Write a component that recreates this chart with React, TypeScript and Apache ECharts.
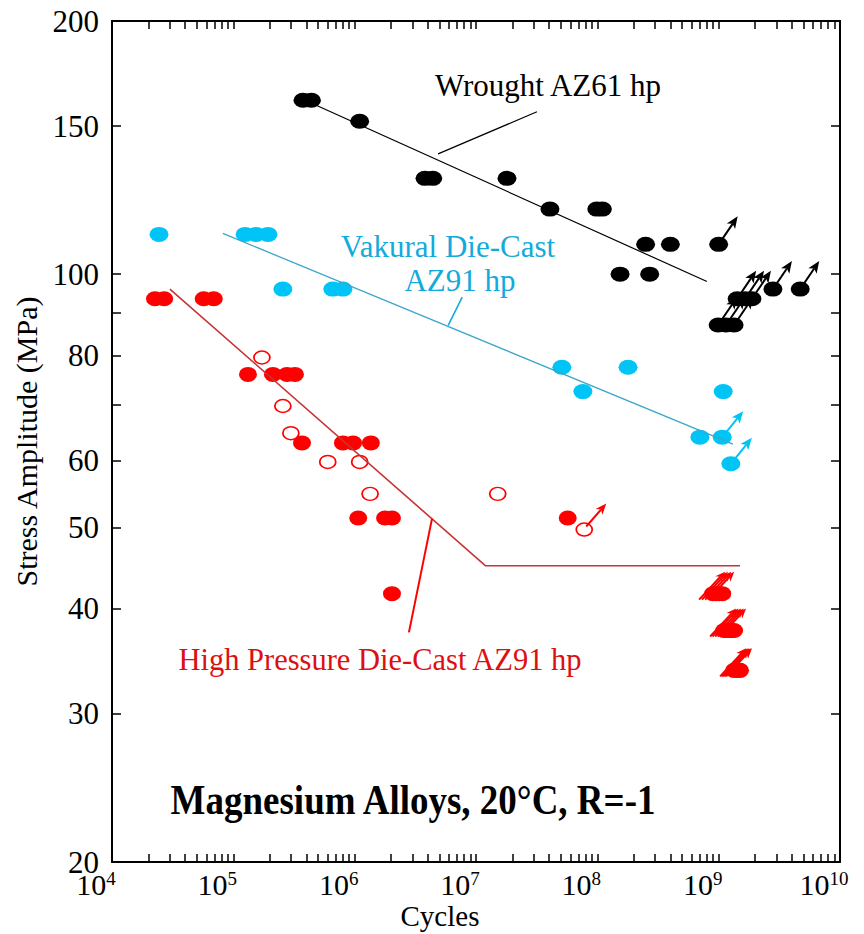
import React, { useEffect, useRef } from "react";
import * as echarts from "echarts";

// ---- Wrought AZ61 hp (cycles to failure, stress amplitude in MPa) ----
const wroughtCycles = [3.75e5, 4.4e5, 1.1e6, 3.8e6, 4.4e6, 1.8e7, 4.07e7, 9.9e7, 1.1e8, 2.5e8, 4.0e8, 1.54e8, 2.7e8];
const wroughtStress = [161, 161, 152, 130, 130, 130, 119.5, 119.5, 119.5, 108.5, 108.5, 100, 100];
// run-outs (no failure)
const wroughtRunoutCycles = [1.0e9, 0.99e9, 1.15e9, 1.34e9, 1.42e9, 1.65e9, 1.88e9, 2.8e9, 4.7e9];
const wroughtRunoutStress = [108.5, 87, 87, 87, 93.5, 93.5, 93.5, 96, 96];
const wroughtFitCycles = [3.55e5, 8.0e8];
const wroughtFitStress = [162, 98];
const wroughtLeaderCycles = [4.87e6, 3.18e7];
const wroughtLeaderStress = [139, 156];

// ---- Vakural Die-Cast AZ91 hp ----
const vakuralCycles = [2.44e4, 1.25e5, 1.54e5, 1.93e5, 2.56e5, 6.6e5, 8.0e5, 5.1e7, 1.79e8, 7.6e7, 1.09e9, 7.0e8];
const vakuralStress = [111.5, 111.5, 111.5, 111.5, 96, 96, 96, 77.5, 77.5, 72.5, 72.5, 64];
const vakuralRunoutCycles = [1.07e9, 1.26e9];
const vakuralRunoutStress = [64, 59.5];
const vakuralFitCycles = [8.2e4, 1.31e9];
const vakuralFitStress = [111.8, 62.8];
const vakuralLeaderCycles = [5.9e6, 7.7e6];
const vakuralLeaderStress = [86.9, 93.9];

// ---- High Pressure Die-Cast AZ91 hp ----
const hpdcCycles = [2.26e4, 2.69e4, 5.7e4, 6.9e4, 1.32e5, 2.12e5, 2.77e5, 3.22e5, 3.68e5, 8.0e5, 9.7e5, 1.36e6, 1.07e6, 1.78e6, 2.03e6, 2.03e6, 5.7e7];
const hpdcStress = [93.5, 93.5, 93.5, 93.5, 76, 76, 76, 76, 63, 63, 63, 63, 51.3, 51.3, 51.3, 41.7, 51.3];
const hpdcOpenCycles = [1.72e5, 2.56e5, 2.98e5, 6.0e5, 1.1e6, 1.34e6, 1.51e7];
const hpdcOpenStress = [79.6, 69.7, 64.7, 59.8, 59.8, 54.8, 54.8];
const hpdcOpenRunoutCycles = [7.8e7];
const hpdcOpenRunoutStress = [49.7];
const hpdcRunoutCycles = [
  0.9e9, 0.95e9, 1.01e9, 1.07e9,
  1.11e9, 1.16e9, 1.22e9, 1.28e9, 1.34e9,
  1.34e9, 1.38e9, 1.42e9, 1.46e9, 1.5e9,
];
const hpdcRunoutStress = [41.7, 41.7, 41.7, 41.7, 37.7, 37.7, 37.7, 37.7, 37.7, 33.8, 33.8, 33.8, 33.8, 33.8];
const hpdcFitCycles = [3.0e4, 1.2e7, 1.5e9];
const hpdcFitStress = [96, 45, 45];
const hpdcLeaderCycles = [4.34e6, 2.8e6];
const hpdcLeaderStress = [51.2, 37.5];

// ---- axes ----
const cycleExponents = [4, 5, 6, 7, 8, 9, 10];
const stressTicks = [20, 30, 40, 50, 60, 70, 80, 90, 100, 150, 200];
const stressLabels = [20, 30, 40, 50, 60, 80, 100, 150, 200];

const SERIF = '"Liberation Serif", "DejaVu Serif", "Times New Roman", serif';
const BLACK = "#000000";
const CYAN = "#00c4f5";
const CYAN_LINE = "#3aa6cc";
const CYAN_TEXT = "#14aadb";
const RED = "#ff0000";
const RED_LINE = "#c83434";
const RED_TEXT = "#dd1010";

const ELLIPSE = "path://M50,0A50,50,0,1,1,50,100A50,50,0,1,1,50,0Z";

const lg = Math.log10;
const pairs = (xs: number[], ys: number[]) => xs.map((x, i) => [lg(x), lg(ys[i])]);

// ticks on the cycles axis: 1..9 x 10^n
const cycleTicks: number[] = [];
for (let e = 4; e < 10; e++) {
  for (let k = 1; k < 10; k++) cycleTicks.push(lg(k) + e);
}
cycleTicks.push(10);

function lineSeries(xs: number[], ys: number[], color: string, width: number, z = 6) {
  return {
    type: "line",
    data: pairs(xs, ys),
    symbol: "none",
    lineStyle: { color, width, opacity: 1 },
    silent: true,
    z,
  };
}

function pointSeries(xs: number[], ys: number[], fill: string, border: string | null, size: number[], z = 4) {
  return {
    type: "scatter",
    data: pairs(xs, ys),
    symbol: ELLIPSE,
    symbolSize: size,
    itemStyle: border
      ? { color: fill, borderColor: border, borderWidth: 1.6, opacity: 1 }
      : { color: fill, borderWidth: 0, opacity: 1 },
    silent: true,
    z,
  };
}

// run-out arrow drawn from each point in pixel space
function arrowSeries(
  xs: number[],
  ys: number[],
  color: string,
  from: number[],
  to: number[],
  head = [11, 4.5],
  z = 5
) {
  return {
    type: "custom",
    coordinateSystem: "cartesian2d",
    data: pairs(xs, ys),
    silent: true,
    z,
    renderItem: (_params: any, api: any) => {
      const p = api.coord([api.value(0), api.value(1)]);
      const x1 = p[0] + from[0];
      const y1 = p[1] + from[1];
      const x2 = p[0] + to[0];
      const y2 = p[1] + to[1];
      const len = Math.hypot(x2 - x1, y2 - y1);
      const ux = (x2 - x1) / len;
      const uy = (y2 - y1) / len;
      const hl = head[0];
      const hw = head[1];
      const bx = x2 - ux * hl;
      const by = y2 - uy * hl;
      const nx = x2 - ux * (hl - 3);
      const ny = y2 - uy * (hl - 3);
      return {
        type: "group",
        children: [
          { type: "line", shape: { x1, y1, x2: nx, y2: ny }, style: { stroke: color, lineWidth: 2 } },
          {
            type: "polygon",
            shape: {
              points: [
                [x2, y2],
                [bx - uy * hw, by + ux * hw],
                [nx, ny],
                [bx + uy * hw, by - ux * hw],
              ],
            },
            style: { fill: color },
          },
        ],
      };
    },
  };
}

function label(text: string, x: number, y: number, color: string, size: number, bold = false, scaleY = 1) {
  return {
    type: "text",
    x,
    y,
    z: 10,
    scaleY,
    style: {
      text,
      fill: color,
      fontFamily: SERIF,
      fontSize: size,
      fontWeight: bold ? "bold" : "normal",
      align: "center",
      verticalAlign: "middle",
    },
  };
}

export default function App() {
  const ref = useRef<HTMLDivElement>(null);

  useEffect(() => {
    if (!ref.current) return;
    const chart = echarts.init(ref.current, undefined, { renderer: "svg" });

    const xBase = {
      type: "value",
      min: 4,
      max: 10,
      interval: 1,
      splitLine: { show: false },
      axisLine: { show: true, onZero: false, lineStyle: { color: BLACK, width: 2 } },
      axisTick: {
        show: true,
        inside: true,
        length: 8,
        customValues: cycleTicks,
        lineStyle: { color: BLACK, width: 1.5 },
      },
    };
    const yBase = {
      type: "value",
      min: lg(20),
      max: lg(200),
      splitLine: { show: false },
      axisLine: { show: true, onZero: false, lineStyle: { color: BLACK, width: 2 } },
      axisTick: {
        show: true,
        inside: true,
        length: 9,
        customValues: stressTicks.map(lg),
        lineStyle: { color: BLACK, width: 1.5 },
      },
    };

    chart.setOption({
      animation: false,
      backgroundColor: "#ffffff",
      grid: { left: 112, right: 24, top: 21, bottom: 72, containLabel: false },
      xAxis: [
        {
          ...xBase,
          position: "bottom",
          axisLabel: {
            show: true,
            margin: 7,
            align: "center",
            padding: [0, 32, 0, 0],
            customValues: cycleExponents,
            formatter: (v: number) => `{b|10}{s|${Math.round(v)}}`,
            rich: {
              b: { fontFamily: SERIF, fontSize: 30, lineHeight: 30, color: BLACK },
              s: { fontFamily: SERIF, fontSize: 19, lineHeight: 19, verticalAlign: "top", color: BLACK },
            },
          },
        },
        { ...xBase, position: "top", axisLabel: { show: false } },
      ],
      yAxis: [
        {
          ...yBase,
          position: "left",
          name: "Stress Amplitude (MPa)",
          nameLocation: "middle",
          nameRotate: 90,
          nameGap: 64,
          nameTextStyle: { fontFamily: SERIF, fontSize: 30, color: BLACK },
          axisLabel: {
            show: true,
            margin: 13,
            customValues: stressLabels.map(lg),
            formatter: (v: number) => String(Math.round(Math.pow(10, v))),
            fontFamily: SERIF,
            fontSize: 31,
            lineHeight: 28,
            color: BLACK,
          },
        },
        { ...yBase, position: "right", axisLabel: { show: false } },
      ],
      series: [
        lineSeries(wroughtFitCycles, wroughtFitStress, BLACK, 1.2),
        lineSeries(wroughtLeaderCycles, wroughtLeaderStress, BLACK, 1.2),
        lineSeries(vakuralFitCycles, vakuralFitStress, CYAN_LINE, 1.3),
        lineSeries(vakuralLeaderCycles, vakuralLeaderStress, CYAN_TEXT, 1.6),
        lineSeries(hpdcFitCycles, hpdcFitStress, RED_LINE, 1.6),
        lineSeries(hpdcLeaderCycles, hpdcLeaderStress, RED, 2),

        pointSeries(wroughtCycles, wroughtStress, BLACK, null, [19, 15]),
        pointSeries(wroughtRunoutCycles, wroughtRunoutStress, BLACK, null, [19, 15]),
        arrowSeries(wroughtRunoutCycles, wroughtRunoutStress, BLACK, [0, 0], [19, -28], [12, 5]),

        pointSeries(vakuralCycles, vakuralStress, CYAN, null, [19, 15]),
        pointSeries(vakuralRunoutCycles, vakuralRunoutStress, CYAN, null, [19, 15]),
        arrowSeries(vakuralRunoutCycles, vakuralRunoutStress, CYAN, [0, 0], [21, -26], [12, 5]),

        pointSeries(hpdcCycles, hpdcStress, RED, null, [18, 15]),
        pointSeries(hpdcOpenCycles, hpdcOpenStress, "#ffffff", RED, [16, 13]),
        pointSeries(hpdcOpenRunoutCycles, hpdcOpenRunoutStress, "#ffffff", RED, [16, 13]),
        arrowSeries(hpdcOpenRunoutCycles, hpdcOpenRunoutStress, RED, [2, -3], [22, -26]),
        pointSeries(hpdcRunoutCycles, hpdcRunoutStress, RED, null, [18, 15]),
        arrowSeries(hpdcRunoutCycles, hpdcRunoutStress, RED, [-14, 6], [12, -22], [10, 4]),
      ],
      graphic: [
        label("Wrought AZ61 hp", 548, 85, BLACK, 31),
        label("Vakural Die-Cast", 448, 246, CYAN_TEXT, 31),
        label("AZ91 hp", 460, 280, CYAN_TEXT, 31),
        label("High Pressure Die-Cast AZ91 hp", 380, 660, RED_TEXT, 30.5),
        label("Magnesium Alloys, 20°C, R=-1", 413, 800, BLACK, 37, true, 1.15),
        label("Cycles", 440, 916, BLACK, 29),
      ],
    });

    return () => chart.dispose();
  }, []);

  return (
    <div
      ref={ref}
      style={{ position: "fixed", left: 0, top: 0, width: 864, height: 934, background: "#fff" }}
    />
  );
}
